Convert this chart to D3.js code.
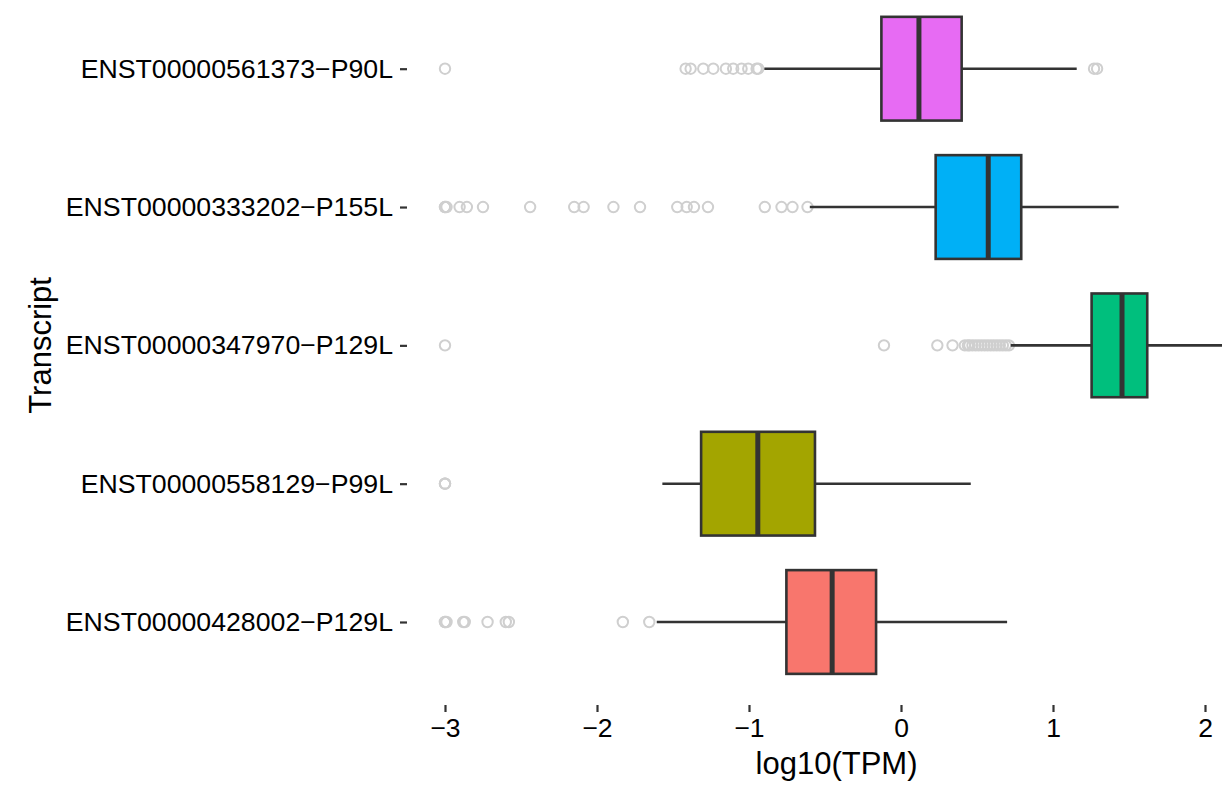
<!DOCTYPE html>
<html>
<head>
<meta charset="utf-8">
<script src="https://cdn.jsdelivr.net/npm/d3@7"></script>
<style>
  html, body { margin: 0; padding: 0; background: #ffffff; }
  svg { display: block; font-family: "Liberation Sans", Arial, Helvetica, sans-serif; }
</style>
</head>
<body>
<svg id="chart" width="1222" height="788"></svg>
<script>
// ---- data (bottom to top) ----
const transcripts = [
  "ENST00000428002\u2212P129L",
  "ENST00000558129\u2212P99L",
  "ENST00000347970\u2212P129L",
  "ENST00000333202\u2212P155L",
  "ENST00000561373\u2212P90L"
];
const boxColors = ["#F8766D", "#A3A500", "#00BF7D", "#00B0F6", "#E76BF3"];
const whiskerLow  = [-1.607, -1.570, 0.722, -0.600, -0.899];
const q1          = [-0.754, -1.315, 1.254,  0.228, -0.129];
const medians     = [-0.453, -0.942, 1.454,  0.574,  0.118];
const q3          = [-0.164, -0.566, 1.620,  0.791,  0.399];
const whiskerHigh = [ 0.698,  0.459, 2.250,  1.432,  1.156];
const outliers = [
  [-3.0, -3.0, -2.99, -2.88, -2.87, -2.72, -2.60, -2.58, -1.83, -1.656],
  [-3.0, -3.0, -3.0],
  [-3.0, -0.112, 0.239, 0.339, 0.42, 0.44, 0.45, 0.47, 0.49, 0.51, 0.53, 0.55, 0.57, 0.59, 0.61, 0.63, 0.65, 0.67, 0.69, 0.71],
  [-3.0, -3.0, -2.99, -2.904, -2.856, -2.750, -2.440, -2.150, -2.088, -1.892, -1.717, -1.472, -1.410, -1.362, -1.270, -0.896, -0.786, -0.714, -0.615],
  [-3.0, -1.417, -1.384, -1.301, -1.235, -1.152, -1.104, -1.049, -1.005, -0.950, -0.939, 1.27, 1.29]
];
const xTicks = [-3, -2, -1, 0, 1, 2];
const xTitle = "log10(TPM)";
const yTitle = "Transcript";

// ---- layout ----
const svg = d3.select("#chart");
const panel = { left: 407, right: 1222, top: -14.3, bottom: 705 };

const x = d3.scaleLinear().domain([-3, 2]).range([445, 1205]);
const y = d3.scalePoint().domain(transcripts).range([622, 68.7]).padding(0);
const boxH = y.step() * 0.75;

const rows = transcripts.map((t, i) => ({
  t, i, color: boxColors[i],
  lo: whiskerLow[i], q1: q1[i], med: medians[i], q3: q3[i], hi: whiskerHigh[i],
  out: outliers[i]
}));

svg.append("defs").append("clipPath").attr("id", "clip")
  .append("rect")
  .attr("x", panel.left).attr("y", panel.top)
  .attr("width", panel.right - panel.left).attr("height", panel.bottom - panel.top);

const g = svg.append("g").attr("clip-path", "url(#clip)");

// outliers
rows.forEach(r => {
  g.selectAll(null).data(r.out).enter().append("circle")
    .attr("cx", d => x(d)).attr("cy", y(r.t)).attr("r", 5.2)
    .attr("fill", "none").attr("stroke", "#cfcfcf").attr("stroke-width", 2);
});

const stroke = "#333333";
const rg = g.selectAll("g.row").data(rows).enter().append("g").attr("class", "row");

// whiskers
rg.append("line")
  .attr("x1", d => x(d.lo)).attr("x2", d => x(d.q1))
  .attr("y1", d => y(d.t)).attr("y2", d => y(d.t))
  .attr("stroke", stroke).attr("stroke-width", 2.6);
rg.append("line")
  .attr("x1", d => x(d.q3)).attr("x2", d => x(d.hi))
  .attr("y1", d => y(d.t)).attr("y2", d => y(d.t))
  .attr("stroke", stroke).attr("stroke-width", 2.6);

// boxes
rg.append("rect")
  .attr("x", d => x(d.q1)).attr("width", d => x(d.q3) - x(d.q1))
  .attr("y", d => y(d.t) - boxH / 2).attr("height", boxH)
  .attr("fill", d => d.color)
  .attr("stroke", stroke).attr("stroke-width", 2.6);

// medians
rg.append("line")
  .attr("x1", d => x(d.med)).attr("x2", d => x(d.med))
  .attr("y1", d => y(d.t) - boxH / 2).attr("y2", d => y(d.t) + boxH / 2)
  .attr("stroke", stroke).attr("stroke-width", 5);

// ---- x axis ----
const xAxis = svg.append("g").attr("transform", `translate(0,${panel.bottom})`)
  .call(d3.axisBottom(x).tickValues(xTicks).tickSize(7).tickPadding(6)
    .tickFormat(d => d < 0 ? "\u2212" + Math.abs(d) : String(d)));
xAxis.select(".domain").remove();
xAxis.selectAll(".tick line").attr("stroke", stroke).attr("stroke-width", 2.2);
xAxis.selectAll(".tick text").attr("fill", "#000").attr("font-size", 26.5)
  .attr("font-family", "Liberation Sans, Arial, sans-serif");

// ---- y axis ----
const yAxis = svg.append("g").attr("transform", `translate(${panel.left},0)`)
  .call(d3.axisLeft(y).tickSize(7).tickPadding(7));
yAxis.select(".domain").remove();
yAxis.selectAll(".tick line").attr("stroke", stroke).attr("stroke-width", 2.2);
yAxis.selectAll(".tick text").attr("fill", "#000").attr("font-size", 26.7)
  .attr("font-family", "Liberation Sans, Arial, sans-serif");

// ---- titles ----
svg.append("text")
  .attr("x", (panel.left + panel.right) / 2 + 22).attr("y", 774)
  .attr("text-anchor", "middle").attr("font-size", 31).attr("fill", "#000")
  .text(xTitle);
svg.append("text")
  .attr("transform", `translate(51,${(panel.top + panel.bottom) / 2}) rotate(-90)`)
  .attr("text-anchor", "middle").attr("font-size", 31).attr("fill", "#000")
  .text(yTitle);
</script>
</body>
</html>
